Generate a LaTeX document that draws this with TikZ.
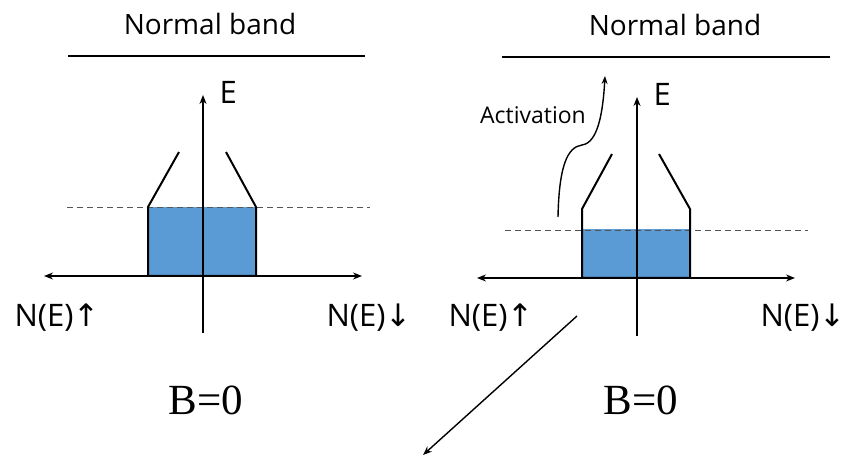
\documentclass[tikz,border=0pt]{standalone}
\usepackage{fontspec}
\newfontfamily\labelfont{Open Sans}
\newfontfamily\arrowfont{DejaVu Sans}
\newfontfamily\fieldfont{Liberation Serif}
\usetikzlibrary{arrows.meta}
\definecolor{bandblue}{HTML}{5B9BD5}
\definecolor{fermigray}{HTML}{555555}

\tikzset{
    axis/.style={line width=1.3pt, <->},
    eaxis/.style={line width=1.3pt, ->},
    dos/.style={line width=2pt, line join=miter},
    fermi/.style={dash pattern=on 6pt off 4pt, color=fermigray, line width=0.9pt},
    bandline/.style={line width=1.6pt},
    lbl/.style={font=\labelfont\fontsize{28}{30}\selectfont},
    axlbl/.style={font=\labelfont\fontsize{31}{33}\selectfont},
    bfield/.style={font=\fieldfont\fontsize{43}{45}\selectfont, anchor=base},
}

\begin{document}
\begin{tikzpicture}[x=1pt, y=1pt, >={Stealth[length=9pt, width=7pt]}]
    \useasboundingbox (0,0) rectangle (853,457);

    % ---------- left panel: B = 0 ----------
    \coordinate (LO) at (203,181);
    \coordinate (LEbot) at (203,124);
    \coordinate (LEtop) at (203,362);
    \coordinate (LXl) at (44,181);
    \coordinate (LXr) at (362,181);
    \coordinate (LBl) at (148,181);
    \coordinate (LBr) at (256,250);
    \coordinate (LFl) at (67,250);
    \coordinate (LFr) at (370,250);
    \coordinate (LTl) at (148,250);
    \coordinate (LTr) at (256,250);
    \coordinate (LSl) at (179,305);
    \coordinate (LSr) at (226,305);
    \coordinate (LNl) at (68,401);
    \coordinate (LNr) at (365,401);

    \node[lbl] (lnormal) at (210,433) {Normal band};
    \draw[bandline] (LNl) -- (LNr);

    \fill[bandblue] (LBl) rectangle (LBr);
    \draw[fermi] (LFl) -- (LFr);
    \draw[dos] (LSl) -- (LTl) -- (LBl) -- (256,181) -- (LTr) -- (LSr);
    \draw[axis] (LXl) -- (LXr);
    \draw[eaxis] (LEbot) -- (LEtop);

    \node[axlbl, anchor=west] (lE) at (216,365) {E};
    \node[axlbl] (lup) at (57,139) {N(E)\arrowfont↑};
    \node[axlbl] (ldown) at (369,139) {N(E)\arrowfont↓};
    \node[bfield] (lB) at (206,42) {B=0};

    % ---------- right panel: activation ----------
    \coordinate (RO) at (637,179);
    \coordinate (REbot) at (637,121);
    \coordinate (REtop) at (637,360);
    \coordinate (RXl) at (477,179);
    \coordinate (RXr) at (795,179);
    \coordinate (RBl) at (582,179);
    \coordinate (RBr) at (690,228);
    \coordinate (RFl) at (505,227);
    \coordinate (RFr) at (808,227);
    \coordinate (RTl) at (582,248);
    \coordinate (RTr) at (690,248);
    \coordinate (RSl) at (612,303);
    \coordinate (RSr) at (659,303);
    \coordinate (RNl) at (502,400);
    \coordinate (RNr) at (830,400);
    \coordinate (Astart) at (558,240);
    \coordinate (Akink) at (582,312);
    \coordinate (Aend) at (605,381);
    \coordinate (Pfrom) at (577,141);
    \coordinate (Pto) at (423,2);

    \node[lbl] (rnormal) at (675,432) {Normal band};
    \draw[bandline] (RNl) -- (RNr);

    \fill[bandblue] (RBl) rectangle (RBr);
    \draw[fermi] (RFl) -- (RFr);
    \draw[dos] (RSl) -- (RTl) -- (RBl) -- (690,179) -- (RTr) -- (RSr);
    \draw[axis] (RXl) -- (RXr);
    \draw[eaxis] (REbot) -- (REtop);

    \node[axlbl, anchor=west] (rE) at (650,363) {E};
    \node[axlbl] (rup) at (491,139) {N(E)\arrowfont↑};
    \node[axlbl] (rdown) at (803,139) {N(E)\arrowfont↓};
    \node[bfield] (rB) at (641,42) {B=0};

    % activation path up to the normal band
    \node[font=\labelfont\fontsize{23}{25}\selectfont] (act) at (533,342) {Activation};
    \draw[line width=1.4pt, ->, >={Stealth[length=8pt, width=6pt]}]
        (Astart) .. controls (559,290) and (567,310) .. (Akink)
        .. controls (598,314) and (603,345) .. (Aend);

    % pointer out of the figure
    \draw[line width=1.4pt, ->] (Pfrom) -- (Pto);
\end{tikzpicture}
\end{document}
